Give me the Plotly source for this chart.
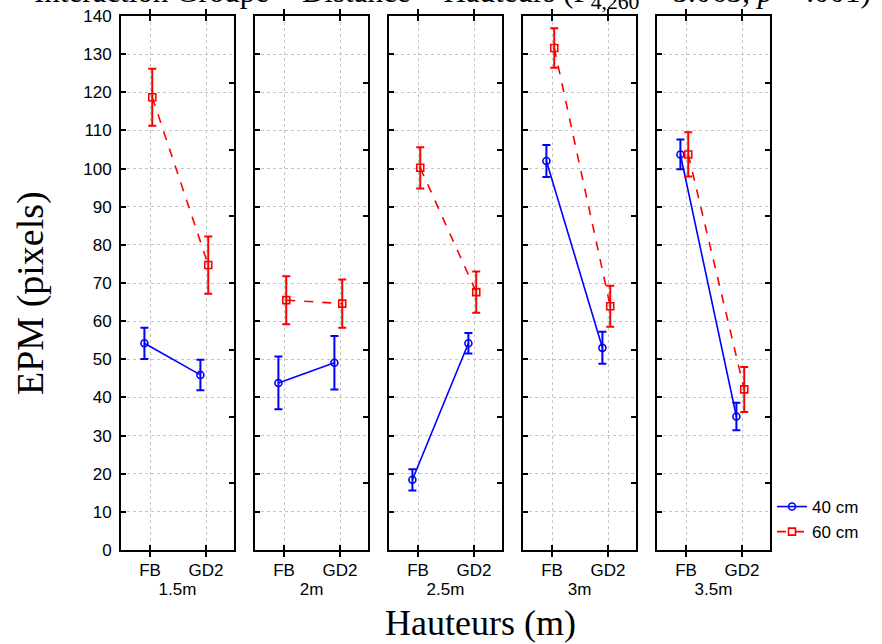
import plotly.graph_objects as go

# ---------------- data ----------------
heights = ["1.5m", "2m", "2.5m", "3m", "3.5m"]
conditions = ["FB", "GD2"]
series_names = ["40 cm", "60 cm"]

mean_40 = [[54.2, 45.9], [43.8, 49.1], [18.4, 54.2], [102.0, 53.0], [103.7, 35.0]]
err_40 = [[4.1, 4.0], [6.9, 7.0], [2.8, 2.7], [4.2, 4.2], [3.9, 3.6]]
mean_60 = [[118.7, 74.7], [65.5, 64.6], [100.2, 67.6], [131.6, 63.9], [103.7, 42.1]]
err_60 = [[7.5, 7.5], [6.3, 6.3], [5.4, 5.4], [5.2, 5.4], [5.8, 5.9]]

y_ticks = list(range(0, 141, 10))

# ---------------- layout helpers ----------------
W, H = 882, 644
left0, pw, step = 121, 113, 134
top_px, bot_px = 16, 550
ydom = [(H - bot_px) / H, (H - top_px) / H]
xrange_ = [-0.518, 1.5]
offsets = [-0.1, 0.04]
colors = ["#0000ff", "#ff0000"]
symbols = ["circle-open", "square-open"]
dashes = ["solid", "dash"]
means = [mean_40, mean_60]
errs = [err_40, err_60]
sans = "Liberation Sans, Arial"
serif = "Liberation Serif, Times New Roman"

fig = go.Figure()
layout = dict(
    width=W, height=H,
    margin=dict(l=0, r=0, t=0, b=0, autoexpand=False),
    paper_bgcolor="white", plot_bgcolor="white",
    showlegend=True,
    legend=dict(x=772 / W, y=(H - 489) / H, xanchor="left", yanchor="top",
                font=dict(family=sans, size=17, color="#000"),
                bgcolor="rgba(0,0,0,0)", tracegroupgap=0, itemwidth=30),
)

for i, h in enumerate(heights):
    k = i + 1
    xa = "x" if k == 1 else f"x{k}"
    ya = "y" if k == 1 else f"y{k}"
    sec = 5 + k
    x0 = left0 + step * i
    layout["xaxis" if k == 1 else f"xaxis{k}"] = dict(
        domain=[x0 / W, (x0 + pw) / W], anchor=ya, range=xrange_,
        tickvals=[0, 1], ticktext=conditions, automargin=False,
        ticks="inside", ticklen=5, tickwidth=1.5, tickcolor="#000",
        showline=True, linecolor="#000", linewidth=2, mirror="allticks",
        showgrid=True, gridcolor="#c4c4c4", griddash="dot", gridwidth=1,
        zeroline=False, fixedrange=True, ticklabelstandoff=4,
        tickfont=dict(family=sans, size=17, color="#000"),
        title=dict(text=h, standoff=4,
                   font=dict(family=sans, size=17, color="#000")),
    )
    layout["yaxis" if k == 1 else f"yaxis{k}"] = dict(
        domain=ydom, anchor=xa, range=[0, 140], tickvals=y_ticks,
        ticks="inside", ticklen=5, tickwidth=1.5, tickcolor="#000",
        showticklabels=(k == 1), ticklabelstandoff=4, automargin=False,
        showline=True, linecolor="#000", linewidth=2, mirror=True,
        showgrid=True, gridcolor="#c4c4c4", griddash="dot", gridwidth=1,
        zeroline=False, fixedrange=True,
        tickfont=dict(family=sans, size=17, color="#000"),
    )
    layout[f"yaxis{sec}"] = dict(
        overlaying=ya, anchor=xa, side="right", range=[0, 8], dtick=1,
        ticks="inside", ticklen=5, tickwidth=1.5, tickcolor="#000",
        showticklabels=False, showgrid=False, zeroline=False, showline=False,
        fixedrange=True, automargin=False,
    )
    fig.add_trace(go.Scatter(x=[None], y=[None], xaxis=xa, yaxis=f"y{sec}",
                             showlegend=False, hoverinfo="skip"))
    for s in range(2):
        fig.add_trace(go.Scatter(
            x=[c + offsets[s] for c in range(len(conditions))],
            y=means[s][i],
            error_y=dict(type="data", array=errs[s][i], color=colors[s],
                         thickness=2, width=4),
            mode="lines+markers",
            line=dict(color=colors[s], width=1.6, dash=dashes[s]),
            marker=dict(symbol=symbols[s], size=7, color=colors[s],
                        line=dict(width=1.6, color=colors[s])),
            name=series_names[s], legendgroup=series_names[s],
            showlegend=(i == 0), xaxis=xa, yaxis=ya, cliponaxis=False,
        ))

layout["annotations"] = [
    dict(text="EPM (pixels)", x=30 / W, y=(H - 293) / H, xref="paper", yref="paper",
         textangle=-90, showarrow=False, xanchor="center", yanchor="middle",
         font=dict(family=serif, size=38, color="#000")),
    dict(text="Hauteurs (m)", x=480 / W, y=(H - 623) / H, xref="paper", yref="paper",
         showarrow=False, xanchor="center", yanchor="middle",
         font=dict(family=serif, size=36, color="#000")),
    dict(text="Interaction Groupe × Distance × Hauteurs (F<sub>4,260</sub> = 5.063, <i>p</i> < .001)",
         x=873 / W, y=1, xref="paper", yref="paper", showarrow=False,
         xanchor="right", yanchor="bottom", yshift=-16,
         font=dict(family=serif, size=31, color="#000")),
]

fig.update_layout(**layout)
fig.write_html(
    "out.html",
    config={"displayModeBar": False},
    post_script="document.body.style.margin='0';document.body.style.overflow='hidden';",
)
